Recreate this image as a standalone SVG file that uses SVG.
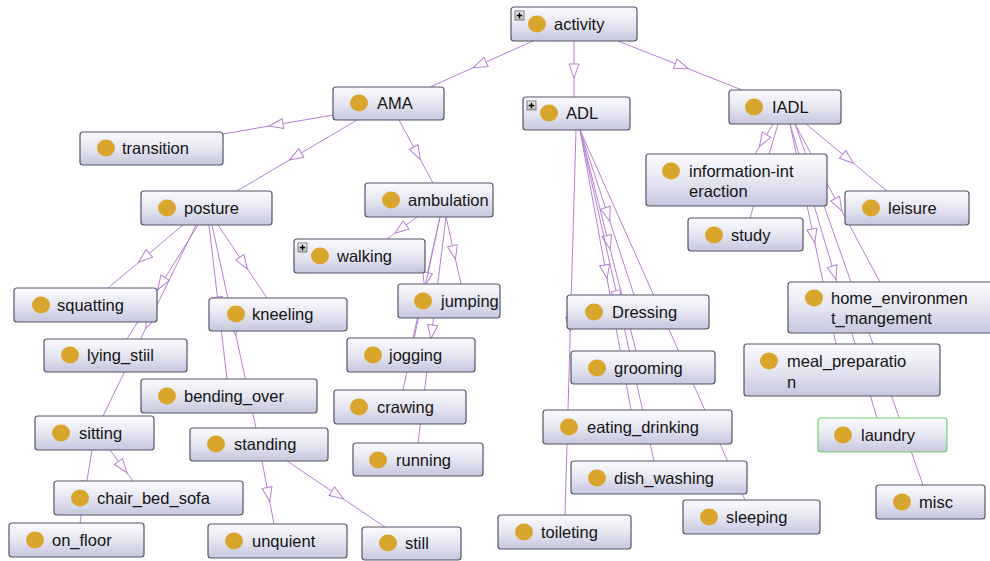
<svg xmlns="http://www.w3.org/2000/svg" width="990" height="561" viewBox="0 0 990 561">
<defs>
<linearGradient id="g" x1="0" y1="0" x2="0" y2="1">
<stop offset="0" stop-color="#fbfbfe"/>
<stop offset="0.5" stop-color="#e6e6f2"/>
<stop offset="1" stop-color="#c6c6de"/>
</linearGradient>
<linearGradient id="pg" x1="0" y1="0" x2="0" y2="1">
<stop offset="0" stop-color="#f4f4f4"/>
<stop offset="1" stop-color="#b8b8b8"/>
</linearGradient>
<marker id="a" markerUnits="userSpaceOnUse" markerWidth="16" markerHeight="12" viewBox="-1 -6 16 12" refX="5" refY="0" orient="auto">
<path d="M0,-5 L14,0 L0,5 Z" fill="#fff" stroke="#b87fd4" stroke-width="1"/>
</marker>
<g id="plus">
<rect x="0" y="0" width="9" height="9" fill="url(#pg)" stroke="#6a6a6a" stroke-width="0.8"/>
<path d="M4.5,1.8 V7.2 M1.8,4.5 H7.2" stroke="#000" stroke-width="1.4"/>
</g>
</defs>
<style>
.e path{fill:none;stroke:#b87fd4;stroke-width:1;marker-mid:url(#a)}
.n rect.b{fill:url(#g);stroke:#55556a;stroke-width:1.2}
.n rect.sel{stroke:#6fd46f}
.n ellipse{fill:#d8a52d}
.n text{font-family:"Liberation Sans",Arial,sans-serif;font-size:16.5px;fill:#141414}
</style>
<rect width="990" height="561" fill="#fff"/>
<g id="connectors" class="e">
<path d="M533,41 L481.5,64 L430,87"/>
<path d="M574,41 L574,69 L574,97"/>
<path d="M618,41 L680,65.5 L742,90"/>
<path d="M333,115 L278,124.5 L223,134"/>
<path d="M357,120 L297,155.5 L237,191"/>
<path d="M399,120 L416,151.5 L433,183"/>
<path d="M417,217 L402,228 L387,239"/>
<path d="M446,217 L453.5,250.5 L461,284"/>
<path d="M440,217 L426.5,277.5 L413,338"/>
<path d="M440,217 L421.5,303.5 L403,390"/>
<path d="M446,217 L432,330 L418,443"/>
<path d="M183,225 L145.5,256.5 L108,288"/>
<path d="M198,225 L162.5,282 L127,339"/>
<path d="M196,225 L149.5,320.5 L103,416"/>
<path d="M209,225 L218,302 L227,379"/>
<path d="M212,225 L234,326.5 L256,428"/>
<path d="M218,225 L242.5,261.5 L267,298"/>
<path d="M110,450 L121.5,465.5 L133,481"/>
<path d="M92,450 L86,486.5 L80,523"/>
<path d="M262,461 L268,492.5 L274,524"/>
<path d="M287,461 L336,494 L385,527"/>
<path d="M580,130 L607,212.5 L634,295"/>
<path d="M580,130 L608,240.5 L636,351"/>
<path d="M580,130 L605.5,270 L631,410"/>
<path d="M580,130 L617,295.5 L654,461"/>
<path d="M580,130 L662.5,315 L745,500"/>
<path d="M576,130 L570.5,322.5 L565,515"/>
<path d="M773,124 L764,139 L755,154"/>
<path d="M778,124 L764,171 L750,218"/>
<path d="M806,124 L846.5,157.5 L887,191"/>
<path d="M795,124 L837.5,203 L880,282"/>
<path d="M790,124 L813,234 L836,344"/>
<path d="M790,124 L833.5,271 L877,418"/>
<path d="M795,124 L859,304.5 L923,485"/>
</g>
<g id="activity" class="n"><rect class="b" x="511" y="7" width="126" height="34" rx="3"/><use href="#plus" x="515" y="11"/><ellipse cx="537" cy="24" rx="9" ry="8.5"/><text x="554" y="30">activity</text></g>
<g id="AMA" class="n"><rect class="b" x="333" y="87" width="111" height="33" rx="3"/><ellipse cx="359" cy="103" rx="9" ry="8.5"/><text x="377" y="109">AMA</text></g>
<g id="ADL" class="n"><rect class="b" x="523" y="97" width="107" height="33" rx="3"/><use href="#plus" x="527" y="101"/><ellipse cx="549" cy="113" rx="9" ry="8.5"/><text x="566" y="119">ADL</text></g>
<g id="IADL" class="n"><rect class="b" x="729" y="90" width="112" height="34" rx="3"/><ellipse cx="754" cy="107" rx="9" ry="8.5"/><text x="772" y="113">IADL</text></g>
<g id="transition" class="n"><rect class="b" x="80" y="132" width="143" height="33" rx="3"/><ellipse cx="106" cy="148" rx="9" ry="8.5"/><text x="122" y="154">transition</text></g>
<g id="posture" class="n"><rect class="b" x="141" y="191" width="131" height="34" rx="3"/><ellipse cx="167" cy="208" rx="9" ry="8.5"/><text x="184" y="214">posture</text></g>
<g id="ambulation" class="n"><rect class="b" x="365" y="183" width="128" height="34" rx="3"/><ellipse cx="391" cy="200" rx="9" ry="8.5"/><text x="408" y="206">ambulation</text></g>
<g id="walking" class="n"><rect class="b" x="294" y="239" width="131" height="34" rx="3"/><use href="#plus" x="298" y="243"/><ellipse cx="320" cy="256" rx="9" ry="8.5"/><text x="337" y="262">walking</text></g>
<g id="information-interaction" class="n"><rect class="b" x="646" y="154" width="181" height="52" rx="3"/><ellipse cx="671" cy="171" rx="9" ry="8.5"/><text x="689" y="177">information-int</text><text x="689" y="197">eraction</text></g>
<g id="leisure" class="n"><rect class="b" x="845" y="191" width="124" height="34" rx="3"/><ellipse cx="871" cy="208" rx="9" ry="8.5"/><text x="888" y="214">leisure</text></g>
<g id="study" class="n"><rect class="b" x="688" y="218" width="115" height="33" rx="3"/><ellipse cx="714" cy="235" rx="9" ry="8.5"/><text x="731" y="241">study</text></g>
<g id="squatting" class="n"><rect class="b" x="14" y="288" width="143" height="34" rx="3"/><ellipse cx="41" cy="305" rx="9" ry="8.5"/><text x="57" y="311">squatting</text></g>
<g id="kneeling" class="n"><rect class="b" x="209" y="298" width="138" height="33" rx="3"/><ellipse cx="236" cy="314" rx="9" ry="8.5"/><text x="252" y="320">kneeling</text></g>
<g id="jumping" class="n"><rect class="b" x="398" y="284" width="102" height="34" rx="3"/><ellipse cx="423" cy="301" rx="9" ry="8.5"/><text x="441" y="307">jumping</text></g>
<g id="lying_stiil" class="n"><rect class="b" x="44" y="339" width="143" height="33" rx="3"/><ellipse cx="70" cy="355" rx="9" ry="8.5"/><text x="87" y="361">lying_stiil</text></g>
<g id="jogging" class="n"><rect class="b" x="347" y="338" width="128" height="34" rx="3"/><ellipse cx="373" cy="355" rx="9" ry="8.5"/><text x="389" y="361">jogging</text></g>
<g id="bending_over" class="n"><rect class="b" x="141" y="379" width="176" height="34" rx="3"/><ellipse cx="167" cy="396" rx="9" ry="8.5"/><text x="184" y="402">bending_over</text></g>
<g id="crawing" class="n"><rect class="b" x="334" y="390" width="132" height="34" rx="3"/><ellipse cx="359" cy="407" rx="9" ry="8.5"/><text x="377" y="413">crawing</text></g>
<g id="sitting" class="n"><rect class="b" x="35" y="416" width="119" height="34" rx="3"/><ellipse cx="61" cy="433" rx="9" ry="8.5"/><text x="79" y="439">sitting</text></g>
<g id="standing" class="n"><rect class="b" x="190" y="428" width="138" height="33" rx="3"/><ellipse cx="216" cy="444" rx="9" ry="8.5"/><text x="234" y="450">standing</text></g>
<g id="running" class="n"><rect class="b" x="353" y="443" width="130" height="33" rx="3"/><ellipse cx="378" cy="460" rx="9" ry="8.5"/><text x="396" y="466">running</text></g>
<g id="chair_bed_sofa" class="n"><rect class="b" x="54" y="481" width="189" height="34" rx="3"/><ellipse cx="80" cy="498" rx="9" ry="8.5"/><text x="97" y="504">chair_bed_sofa</text></g>
<g id="on_floor" class="n"><rect class="b" x="9" y="523" width="135" height="34" rx="3"/><ellipse cx="35" cy="540" rx="9" ry="8.5"/><text x="52" y="546">on_floor</text></g>
<g id="unquient" class="n"><rect class="b" x="208" y="524" width="139" height="34" rx="3"/><ellipse cx="234" cy="541" rx="9" ry="8.5"/><text x="252" y="547">unquient</text></g>
<g id="still" class="n"><rect class="b" x="362" y="527" width="99" height="33" rx="3"/><ellipse cx="388" cy="543" rx="9" ry="8.5"/><text x="405" y="549">still</text></g>
<g id="Dressing" class="n"><rect class="b" x="567" y="295" width="142" height="34" rx="3"/><ellipse cx="594" cy="312" rx="9" ry="8.5"/><text x="612" y="318">Dressing</text></g>
<g id="home_environment_mangement" class="n"><rect class="b" x="788" y="282" width="210" height="51" rx="3"/><ellipse cx="814" cy="298" rx="9" ry="8.5"/><text x="831" y="304">home_environmen</text><text x="831" y="324">t_mangement</text></g>
<g id="grooming" class="n"><rect class="b" x="571" y="351" width="144" height="33" rx="3"/><ellipse cx="597" cy="368" rx="9" ry="8.5"/><text x="614" y="374">grooming</text></g>
<g id="meal_preparation" class="n"><rect class="b" x="744" y="344" width="196" height="52" rx="3"/><ellipse cx="769" cy="361" rx="9" ry="8.5"/><text x="787" y="367">meal_preparatio</text><text x="787" y="388">n</text></g>
<g id="eating_drinking" class="n"><rect class="b" x="543" y="410" width="189" height="34" rx="3"/><ellipse cx="569" cy="427" rx="9" ry="8.5"/><text x="587" y="433">eating_drinking</text></g>
<g id="laundry" class="n"><rect class="b sel" x="818" y="418" width="129" height="34" rx="3"/><ellipse cx="843" cy="435" rx="9" ry="8.5"/><text x="861" y="441">laundry</text></g>
<g id="dish_washing" class="n"><rect class="b" x="571" y="461" width="176" height="33" rx="3"/><ellipse cx="597" cy="478" rx="9" ry="8.5"/><text x="614" y="484">dish_washing</text></g>
<g id="misc" class="n"><rect class="b" x="876" y="485" width="109" height="34" rx="3"/><ellipse cx="902" cy="502" rx="9" ry="8.5"/><text x="919" y="508">misc</text></g>
<g id="sleeping" class="n"><rect class="b" x="683" y="500" width="137" height="34" rx="3"/><ellipse cx="709" cy="517" rx="9" ry="8.5"/><text x="726" y="523">sleeping</text></g>
<g id="toileting" class="n"><rect class="b" x="498" y="515" width="133" height="34" rx="3"/><ellipse cx="524" cy="532" rx="9" ry="8.5"/><text x="541" y="538">toileting</text></g>
</svg>
